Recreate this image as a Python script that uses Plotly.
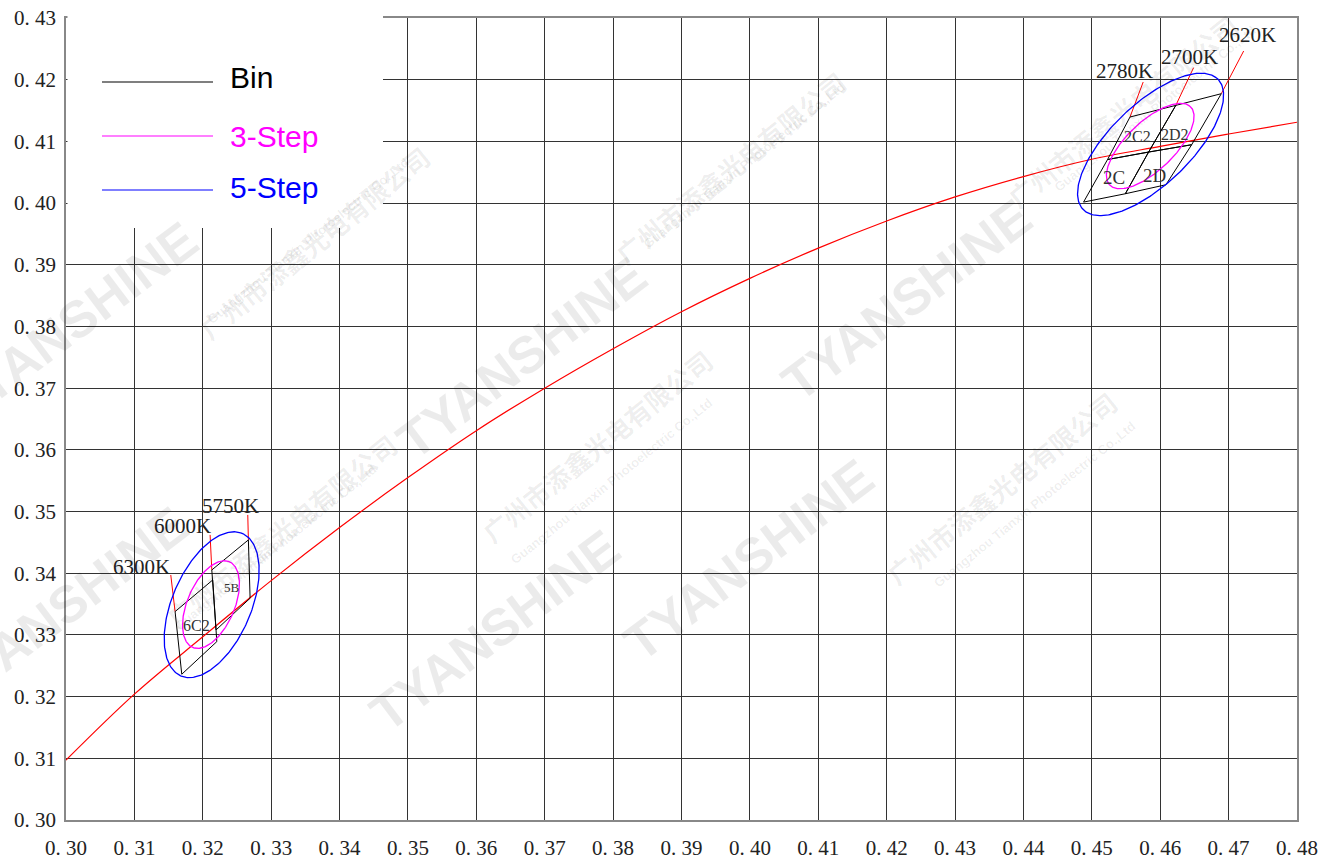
import numpy as np
import plotly.graph_objects as go

fnt = "Liberation Serif"
fnt_leg = "Liberation Sans"
color_bin, color_3, color_5, color_red = "#000000", "#ff00ff", "#0000ff", "#ff0000"

# black body locus (x, y)
locus_x = [0.30, 0.31, 0.32, 0.33, 0.34, 0.35, 0.36, 0.37, 0.38, 0.39,
           0.40, 0.41, 0.42, 0.43, 0.44, 0.45, 0.46, 0.47, 0.48]
locus_y = [0.3097, 0.3204, 0.3297, 0.3388, 0.3474, 0.3555, 0.3631, 0.3700, 0.3764, 0.3824,
           0.3878, 0.3927, 0.3971, 0.4010, 0.4043, 0.4071, 0.4092, 0.4112, 0.4131]

# bin quadrangles (corners, counter-clockwise)
bin_names = ["6C2", "5B", "2C", "2D", "2C2", "2D2"]
bin_x = [[0.31595, 0.31693, 0.32205, 0.32146],
         [0.32132, 0.32194, 0.32692, 0.32667],
         [0.44879, 0.45490, 0.45830, 0.45230],
         [0.45490, 0.46083, 0.46460, 0.45830],
         [0.45230, 0.45830, 0.46228, 0.45558],
         [0.45830, 0.46460, 0.46893, 0.46228]]
bin_y = [[0.33378, 0.32363, 0.32891, 0.33891],
         [0.34053, 0.33081, 0.33595, 0.34540],
         [0.40016, 0.40151, 0.40827, 0.40706],
         [0.40151, 0.40297, 0.40946, 0.40827],
         [0.40706, 0.40827, 0.41584, 0.41395],
         [0.40827, 0.40946, 0.41773, 0.41584]]
bin_label_x = [0.31905, 0.32426, 0.45330, 0.45915, 0.45662, 0.46218]
bin_label_y = [0.33149, 0.33772, 0.40410, 0.40454, 0.41075, 0.41113]
bin_label_size = [16, 13, 19, 19, 16, 16]

# MacAdam ellipses: centre, semi axes, angle (deg)
ell_step = ["5-Step", "3-Step", "5-Step", "3-Step"]
ell_cx = [0.32130, 0.32120, 0.45859, 0.45854]
ell_cy = [0.33490, 0.33492, 0.40951, 0.40925]
ell_a = [0.01240, 0.00745, 0.01446, 0.00868]
ell_b = [0.00585, 0.00350, 0.00617, 0.00370]
ell_theta = [70.0, 70.0, 48.2, 48.2]

# CCT labels and their leader lines
cct_labels = ["6300K", "6000K", "5750K", "2780K", "2700K", "2620K"]
cct_text_x = [0.31105, 0.31705, 0.32406, 0.45477, 0.46427, 0.47275]
cct_text_y = [0.34101, 0.34765, 0.35089, 0.42139, 0.42366, 0.42723]
lead_x0 = [0.31532, 0.32107, 0.32658, 0.45751, 0.46488, 0.47220]
lead_y0 = [0.33972, 0.34621, 0.34945, 0.41962, 0.42195, 0.42465]
lead_x1 = [0.31595, 0.32132, 0.32667, 0.45558, 0.46228, 0.46893]
lead_y1 = [0.33378, 0.34053, 0.34540, 0.41395, 0.41584, 0.41773]

x_ticks = [round(0.30 + 0.01 * i, 2) for i in range(19)]
y_ticks = [round(0.30 + 0.01 * i, 2) for i in range(14)]

fig = go.Figure()

fig.add_trace(go.Scatter(x=locus_x, y=locus_y, mode="lines", showlegend=False,
                         line=dict(color=color_red, width=1.2, shape="spline", smoothing=1.0)))

for i in range(len(cct_labels)):
    fig.add_trace(go.Scatter(x=[lead_x0[i], lead_x1[i]], y=[lead_y0[i], lead_y1[i]], mode="lines",
                             showlegend=False, line=dict(color=color_red, width=1)))

for i in range(len(bin_names)):
    fig.add_trace(go.Scatter(x=bin_x[i] + [bin_x[i][0]], y=bin_y[i] + [bin_y[i][0]], mode="lines",
                             showlegend=False, line=dict(color=color_bin, width=1)))

t = np.linspace(0, 2 * np.pi, 240)
for i in range(len(ell_cx)):
    th = np.radians(ell_theta[i])
    ex = ell_cx[i] + ell_a[i] * np.cos(t) * np.cos(th) - ell_b[i] * np.sin(t) * np.sin(th)
    ey = ell_cy[i] + ell_a[i] * np.cos(t) * np.sin(th) + ell_b[i] * np.sin(t) * np.cos(th)
    col = color_5 if ell_step[i] == "5-Step" else color_3
    fig.add_trace(go.Scatter(x=ex, y=ey, mode="lines", showlegend=False,
                             line=dict(color=col, width=1.3)))

for i in range(len(cct_labels)):
    fig.add_annotation(x=cct_text_x[i], y=cct_text_y[i], text=cct_labels[i], showarrow=False,
                       font=dict(family=fnt, size=21, color="#222222"))
for i in range(len(bin_names)):
    fig.add_annotation(x=bin_label_x[i], y=bin_label_y[i], text=bin_names[i], showarrow=False,
                       font=dict(family=fnt, size=bin_label_size[i], color="#333333"))


# page pixel -> paper (plot area spans x 66..1297, y 18..820)
def px(v):
    return (v - 66.0) / 1231.0


def py(v):
    return (820.0 - v) / 802.0


# watermarks
for (cx, cy) in [(522, 243), (1045, 185), (357, 745), (887, 675), (-65, 322), (-75, 722)]:
    fig.add_annotation(xref="paper", yref="paper", x=px(cx), y=py(cy), text="<b>TYANSHINE</b>",
                       showarrow=False, textangle=-37,
                       font=dict(family=fnt_leg, size=52, color="rgba(0,0,0,0.08)"))
for (cx, cy) in [(188, 135), (730, 60), (597, 553), (1127, 487), (155, 530), (1248, 3)]:
    fig.add_annotation(xref="paper", yref="paper", x=px(cx), y=py(cy), text="<b>广州市添鑫光电有限公司</b>",
                       showarrow=False, textangle=-39,
                       font=dict(family="Noto Sans CJK SC", size=26, color="rgba(0,0,0,0.07)"))
    fig.add_annotation(xref="paper", yref="paper", x=px(cx + 14), y=py(cy + 17),
                       text="<b>Guangzhou Tianxin Photoelectric Co.,Ltd</b>",
                       showarrow=False, textangle=-39,
                       font=dict(family=fnt_leg, size=13, color="rgba(0,0,0,0.07)"))

# legend box
fig.add_shape(type="rect", xref="paper", yref="paper", x0=px(67.5), x1=px(383), y0=py(228), y1=py(15),
              fillcolor="white", line=dict(width=0), layer="above")
for (name, col, yy, ty) in [("Bin", color_bin, 82, 77), ("3-Step", color_3, 136, 136), ("5-Step", color_5, 190, 187)]:
    fig.add_shape(type="line", xref="paper", yref="paper", x0=px(102), x1=px(213), y0=py(yy), y1=py(yy),
                  line=dict(color=col, width=1.2), layer="above")
    fig.add_annotation(xref="paper", yref="paper", x=px(228), y=py(ty), text=name, showarrow=False,
                       xanchor="left", yanchor="middle", font=dict(family=fnt_leg, size=30, color=col))

fig.update_xaxes(
    range=[0.30, 0.48], tickvals=x_ticks, ticktext=["0. %02d" % round(v * 100) for v in x_ticks],
    showgrid=True, gridcolor="#333333", gridwidth=1, zeroline=False,
    showline=True, linecolor="#888888", linewidth=1.5, mirror=True, ticks="",
    tickfont=dict(family=fnt, size=21, color="#222222"), ticklabelstandoff=8, automargin=False)
fig.update_yaxes(
    range=[0.30, 0.43], tickvals=y_ticks, ticktext=["0. %02d" % round(v * 100) for v in y_ticks],
    showgrid=True, gridcolor="#333333", gridwidth=1, zeroline=False,
    showline=True, linecolor="#888888", linewidth=1.5, mirror=True, ticks="",
    tickfont=dict(family=fnt, size=21, color="#222222"), ticklabelstandoff=4, automargin=False)

fig.update_layout(
    width=1330, height=860,
    margin=dict(l=66, r=33, t=18, b=40),
    plot_bgcolor="white", paper_bgcolor="white",
    showlegend=False)

# drop the browser's default 8px body margin so the figure fills the window
fig.write_html("out.html", config={"displayModeBar": False},
               post_script="document.body.style.margin='0';")
